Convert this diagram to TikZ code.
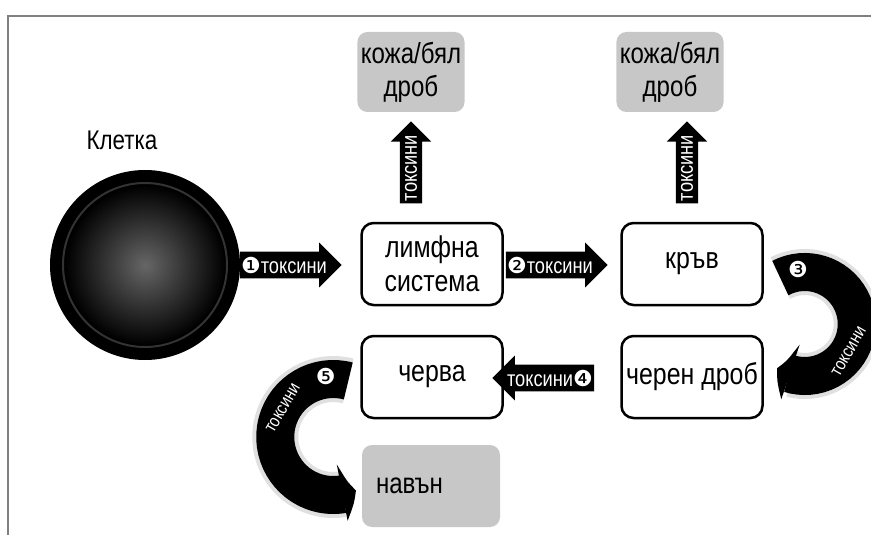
\documentclass[tikz,border=0pt]{standalone}
\usepackage{fontspec}
\setmainfont{Liberation Sans}[FakeStretch=0.83]
\newfontfamily\symfont{DejaVu Sans}
\usetikzlibrary{shapes.arrows,arrows.meta,bending,positioning,calc}

\newcommand{\nr}[1]{{\symfont #1}}

\tikzset{
  organ/.style={draw, line width=2.5pt, rounded corners=12pt,
    minimum width=141pt, minimum height=82pt, align=center,
    font=\fontsize{30}{34}\selectfont},
  exitbox/.style={fill=black!22, rounded corners=10pt,
    minimum width=98pt, minimum height=80pt, align=center,
    font=\fontsize{29}{33}\selectfont},
  toxarrow/.style={single arrow, fill=black, text=white,
    inner xsep=1pt, inner ysep=5pt, single arrow head extend=9pt,
    font=\fontsize{22}{24}\selectfont},
  toxarc/.style={line width=38pt, -{Triangle[width=56pt, length=14pt, bend]}},
  toxhalo/.style={line width=46pt, black!12},
  arcnum/.style={text=white, inner sep=0pt, font=\fontsize{22}{22}\selectfont},
  arclabel/.style={text=white, inner sep=0pt, font=\fontsize{18}{18}\selectfont}
}

\begin{document}
\begin{tikzpicture}[x=1pt, y=-1pt]
  \useasboundingbox (0,0) rectangle (871,535);
  % frame
  \draw[black!50, line width=2pt] (8,535) -- (8,16) -- (871,16);

  % cell
  \node[circle, fill=black, minimum size=190pt] (cell) at (145,265) {};
  \shade[inner color=black!60, outer color=black] (cell.center) circle[radius=80];
  \draw[black!80, line width=2pt] (cell.center) circle[radius=82];
  \node[font=\fontsize{27}{30}\selectfont] (celllabel) at (122,140) {Клетка};

  % organs
  \node[organ] (lymph) at (432,264) {лимфна\\система};
  \node[organ] (blood) at (692,264) {кръв};
  \node[organ] (liver) at (692,377) {черен дроб};
  \node[organ] (gut) at (432,377) {черва};

  % exits
  \node[exitbox] (skin1) at (411,72) {кожа/бял\\дроб};
  \node[exitbox] (skin2) at (670,72) {кожа/бял\\дроб};
  \node[exitbox, minimum width=138pt, minimum height=82pt, text width=110pt, align=left] (out) at (431,486) {навън};

  % straight arrows
  \node[toxarrow, minimum height=95pt] (a1) at (284,265) {\nr{❶}токсини};
  \node[toxarrow, minimum height=100pt] (a2) at (550,265) {\nr{❷}токсини};
  \node[toxarrow, shape border rotate=180, minimum height=100pt] (a4) at (550,378) {токсини\nr{❹}};
  \node[toxarrow, rotate=90, minimum height=82pt] (up1) at (411,168) {токсини};
  \node[toxarrow, rotate=90, minimum height=82pt] (up2) at (687,168) {токсини};

  % curved arrows
  \coordinate (c3) at ([shift={(41,60)}]blood.east);
  \coordinate (c5) at ([shift={(-27,60)}]gut.west);
  \draw[toxhalo] ($(c3)+(-118:52)$) arc[start angle=-118, end angle=105, radius=52];
  \draw[toxhalo] ($(c5)+(-75:58)$) arc[start angle=-75, end angle=-280, radius=58];
  \draw[toxarc] ($(c3)+(-118:52)$) arc[start angle=-118, end angle=122, radius=52];
  \draw[toxarc] ($(c5)+(-75:58)$) arc[start angle=-75, end angle=-293, radius=58];
  \node[arcnum] (n3) at ($(c3)+(-97:55)$) {\nr{❸}};
  \node[arcnum] (n5) at ($(c5)+(-97:61)$) {\nr{❺}};
  \node[arclabel, rotate=60] (t3) at ($(c3)+(32:52)$) {токсини};
  \node[arclabel, rotate=60] (t5) at ($(c5)+(-150:58)$) {токсини};
\end{tikzpicture}
\end{document}
